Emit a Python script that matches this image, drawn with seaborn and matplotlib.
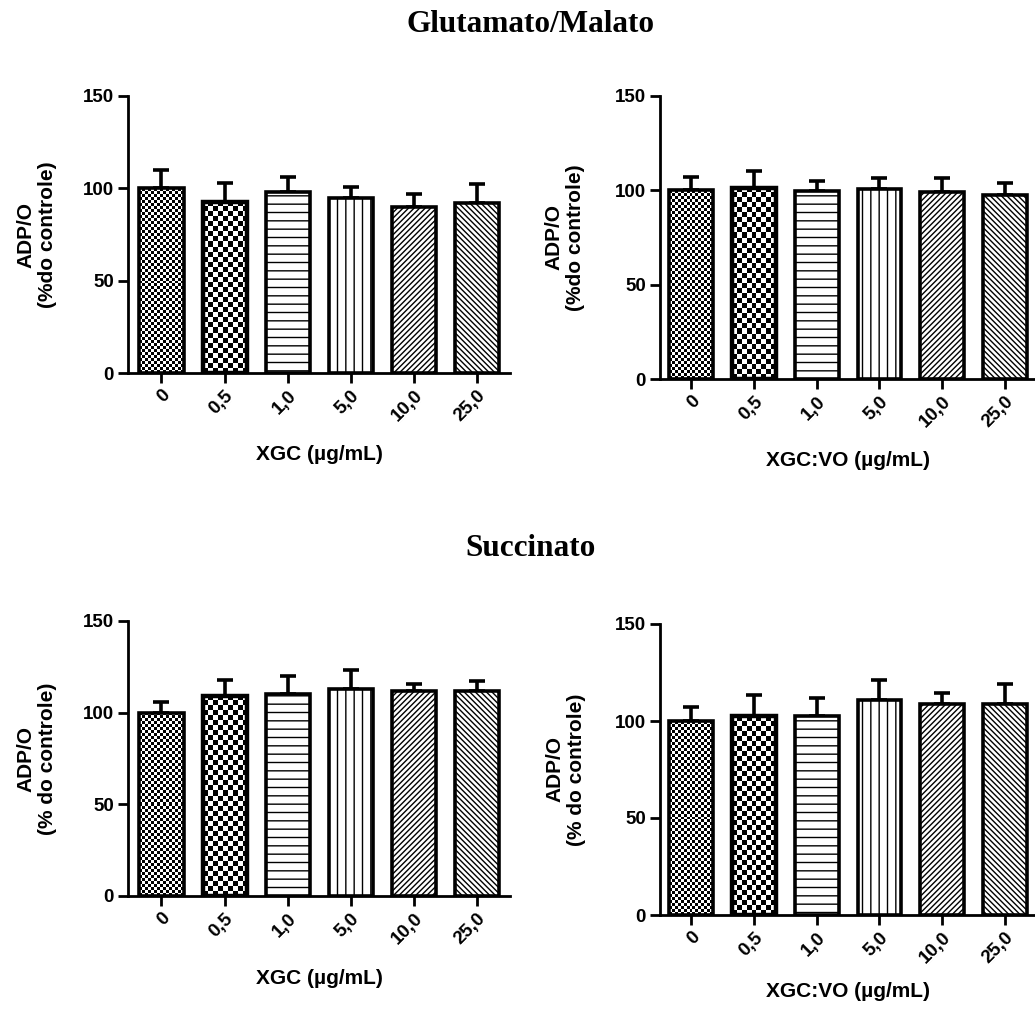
import numpy as np
import pandas as pd
import matplotlib
matplotlib.use("Agg")
import matplotlib.pyplot as plt
import seaborn as sns

# dados (media e erro, % do controle)
doses = ["0", "0,5", "1,0", "5,0", "10,0", "25,0"]

gm_xgc = [100, 92.7, 98.1, 94.9, 89.9, 91.8]
gm_xgc_err = [9.7, 10.3, 7.9, 5.8, 7.3, 10.5]

gm_xgcvo = [100, 101.3, 99.9, 100.6, 99.2, 97.4]
gm_xgcvo_err = [7.1, 9.2, 5.3, 6.2, 7.4, 6.7]

suc_xgc = [100, 109.3, 110.0, 113.1, 111.7, 112.0]
suc_xgc_err = [5.7, 8.7, 10.0, 10.4, 4.0, 5.5]

suc_xgcvo = [100, 102.5, 102.5, 110.9, 109.0, 108.6]
suc_xgcvo_err = [7.4, 10.8, 9.4, 10.3, 5.6, 10.5]

sns.set_style("ticks")
plt.rcParams["font.family"] = ["Liberation Sans", "DejaVu Sans"]
plt.rcParams["hatch.linewidth"] = 1.0
plt.rcParams["text.color"] = "black"
plt.rcParams["axes.labelcolor"] = "black"
plt.rcParams["xtick.color"] = "black"
plt.rcParams["ytick.color"] = "black"
plt.rcParams["axes.edgecolor"] = "black"

fig = plt.figure(figsize=(10.35, 10.16), dpi=100)
W, H = 1035, 1016


def axes_px(left, right, top, bottom):
    return fig.add_axes([left / W, 1 - bottom / H, (right - left) / W, (bottom - top) / H])


def checker(ax, patch, size_px):
    # preenche a barra com um xadrez recortado pela propria barra
    x0, w, h = patch.get_x(), patch.get_width(), patch.get_height()
    o = ax.transData.transform((0, 0))
    px_x = ax.transData.transform((1, 0))[0] - o[0]
    px_y = ax.transData.transform((0, 1))[1] - o[1]
    nx = max(1, int(round(w * px_x / size_px)))
    ny = max(1, int(round(h * px_y / size_px)))
    board = np.add.outer(np.arange(ny), np.arange(nx)) % 2
    im = ax.imshow(board, cmap="gray", extent=(x0, x0 + w, 0, h), origin="lower",
                   interpolation="nearest", aspect="auto", zorder=patch.get_zorder() - 0.05)
    im.set_clip_path(patch)
    patch.set_facecolor("none")


def painel(ax, vals, errs, ylabel, xlabel, xlim, ylab_x, xlab_y):
    df = pd.DataFrame({"dose": doses, "val": vals})
    sns.barplot(data=df, x="dose", y="val", order=doses, color="white", edgecolor="black",
                linewidth=2.6, width=0.7, errorbar=None, saturation=1, ax=ax)
    ax.errorbar(np.arange(len(doses)), vals, yerr=[np.zeros(len(errs)), errs], fmt="none",
                ecolor="black", elinewidth=2.6, capsize=6, capthick=2.6, zorder=0.5)
    ax.set_xlim(*xlim)
    ax.set_ylim(0, 150)
    ax.set_yticks([0, 50, 100, 150])
    hatches = [None, None, "--", "||", "//////", "\\\\\\\\\\\\"]
    bars = ax.patches[:len(doses)]
    for p, h in zip(bars, hatches):
        if h:
            p.set_hatch(h)
    bars[1].set_linewidth(3.2)
    checker(ax, bars[0], 3)
    checker(ax, bars[1], 5)
    sns.despine(ax=ax)
    for s in ["left", "bottom"]:
        ax.spines[s].set_linewidth(2)
    ax.tick_params(axis="both", width=2, length=7, labelsize=13.5, pad=3)
    for lab in ax.get_yticklabels():
        lab.set_fontweight("bold")
    for lab in ax.get_xticklabels():
        lab.set_fontweight("bold")
        lab.set_rotation(45)
        lab.set_ha("right")
        lab.set_rotation_mode("anchor")
    ax.set_ylabel(ylabel, fontsize=15, fontweight="bold")
    ax.set_xlabel(xlabel, fontsize=15, fontweight="bold")
    ax.yaxis.set_label_coords(ylab_x, 0.5)
    ax.xaxis.set_label_coords(0.5, xlab_y)


ax1 = axes_px(128, 510, 96, 373)
ax2 = axes_px(660, 1035, 96, 379)
ax3 = axes_px(128, 510, 621, 896)
ax4 = axes_px(660, 1035, 624, 915)

painel(ax1, gm_xgc, gm_xgc_err, "ADP/O\n(%do controle)", "XGC (µg/mL)", (-0.53, 5.52), -0.185, -0.26)
painel(ax2, gm_xgcvo, gm_xgcvo_err, "ADP/O\n(%do controle)", "XGC:VO (µg/mL)", (-0.5, 5.48), -0.2, -0.255)
painel(ax3, suc_xgc, suc_xgc_err, "ADP/O\n(% do controle)", "XGC (µg/mL)", (-0.53, 5.52), -0.185, -0.265)
painel(ax4, suc_xgcvo, suc_xgcvo_err, "ADP/O\n(% do controle)", "XGC:VO (µg/mL)", (-0.5, 5.48), -0.197, -0.23)

fig.text(531 / W, 1 - 24 / H, "Glutamato/Malato", ha="center", va="center",
         fontsize=22.5, fontweight="bold", family=["Liberation Serif", "DejaVu Serif"])
fig.text(531 / W, 1 - 549 / H, "Succinato", ha="center", va="center",
         fontsize=22.5, fontweight="bold", family=["Liberation Serif", "DejaVu Serif"])

fig.savefig("out.png", dpi=100)
